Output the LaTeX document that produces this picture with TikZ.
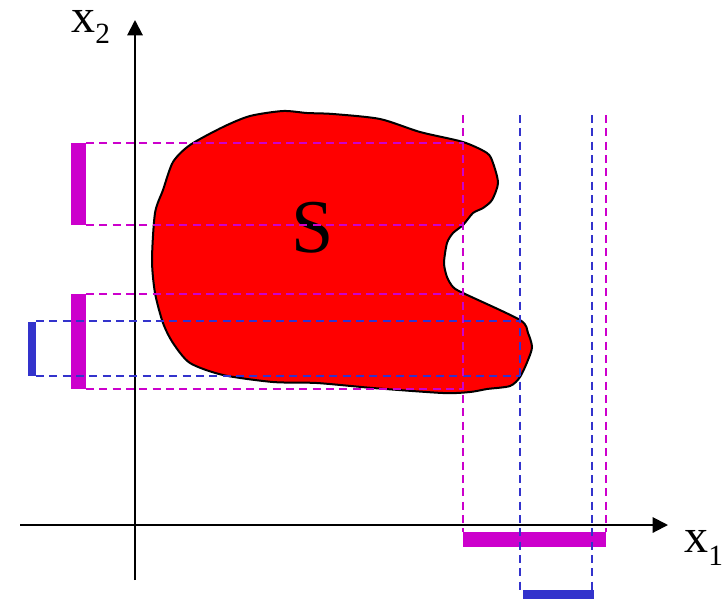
\documentclass[tikz,border=0pt]{standalone}
\usepackage{fontspec}
\setmainfont{Liberation Serif}
\usetikzlibrary{arrows.meta}
\definecolor{mag}{HTML}{CC00CC}
\definecolor{blu}{HTML}{3333CC}
\definecolor{shred}{HTML}{FF0000}
\begin{document}
\begin{tikzpicture}[x=0.75pt,y=-0.75pt,
  axis/.style={line width=1.5pt,-{Triangle[length=11.5pt,width=11.5pt]}},
  proj/.style={line width=1.1pt,dash pattern=on 6pt off 4pt},
  lbl/.style={inner sep=0pt,anchor=base west}]
\useasboundingbox (0,0) rectangle (727,601);
% axes
\draw[axis] (20,525) -- (668,525);
\draw[axis] (135,580) -- (135,20);
\node[lbl] (x2) at (71,32) {\fontsize{36}{36}\selectfont x\raisebox{-8.25pt}{\fontsize{22}{22}\selectfont 2}};
\node[lbl] (x1) at (684,552) {\fontsize{36}{36}\selectfont x\raisebox{-9.75pt}{\fontsize{22}{22}\selectfont 1}};
% set S
\draw[fill=shred,line width=1.5pt,line join=round] plot[smooth cycle,tension=0.45] coordinates {
 (283,111) (307,113) (333,114) (380,119) (420,132) (463,142) (487,153) (493,163)
 (498,183) (492,200) (483,208) (473,213) (463,225) (453,233) (447,243) (444,263)
 (447,277) (453,287) (463,293) (520,320) (528,333) (532,347) (528,360) (520,377)
 (510,386) (487,389) (470,392) (443,393) (373,388) (317,383) (273,382) (223,375)
 (190,363) (173,343) (163,323) (155,293) (152,260) (155,213) (163,190) (173,162)
 (190,145) (223,127) (250,116)};
\node[inner sep=0pt] (S) at (313,228) {\fontsize{57}{57}\selectfont S};
% projection bars
\fill[mag] (71,143) rectangle (86,225);
\fill[mag] (71,294) rectangle (86,389);
\fill[blu] (28,322) rectangle (36,376);
\fill[mag] (463,532) rectangle (606,547);
\fill[blu] (523,590) rectangle (594,599);
% projection lines
\draw[proj,mag] (86,143) -- (463,143);
\draw[proj,mag] (86,225) -- (463,225);
\draw[proj,mag] (86,294) -- (463,294);
\draw[proj,mag] (86,389) -- (463,389);
\draw[proj,blu] (36,321) -- (520,321);
\draw[proj,blu] (36,376) -- (520,376);
\draw[proj,mag] (463,115) -- (463,532);
\draw[proj,mag] (606,115) -- (606,532);
\draw[proj,blu] (520,115) -- (520,590);
\draw[proj,blu] (592,115) -- (592,590);
\end{tikzpicture}
\end{document}
